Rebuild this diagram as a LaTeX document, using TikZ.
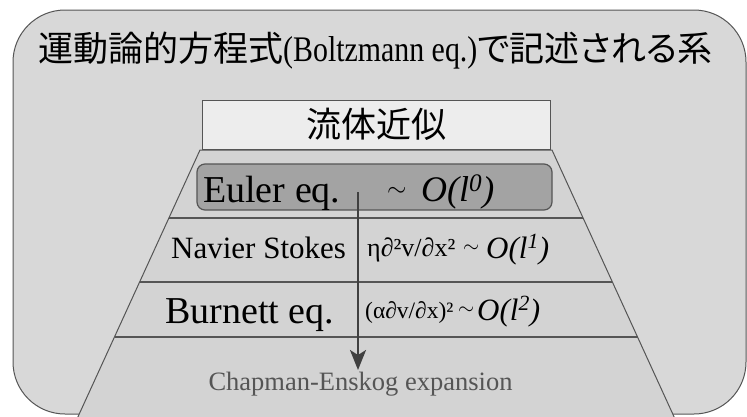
\documentclass[tikz,border=0pt]{standalone}
\usepackage{fontspec}
\setmainfont{Liberation Serif}
\newfontfamily\jp{Noto Sans CJK JP}
\newfontfamily\jpp[RawFeature=+palt]{Noto Sans CJK JP}
\usetikzlibrary{arrows.meta}
\definecolor{outerfill}{HTML}{D8D8D8}
\definecolor{trapfill}{HTML}{D3D3D3}
\definecolor{boxfill}{HTML}{EDEDED}
\definecolor{eulerfill}{HTML}{A3A3A3}
\definecolor{linegray}{HTML}{555555}
\definecolor{arrowgray}{HTML}{404040}
\definecolor{textgray}{HTML}{555555}
\tikzset{
  lbl/.style={anchor=base west, inner sep=0pt, text=black},
  rowline/.style={draw=linegray, line width=1.2pt},
  fluidbox/.style={draw=linegray, line width=1pt, fill=boxfill, minimum width=348pt, minimum height=49pt, inner sep=0pt},
  eulerbox/.style={draw=linegray, line width=1.2pt, fill=eulerfill, rounded corners=8pt, minimum width=355pt, minimum height=46pt, inner sep=0pt},
  flowarrow/.style={draw=arrowgray, line width=2pt, -{Stealth[width=16pt,length=20pt,inset=5pt]}}
}
\begin{document}
\begin{tikzpicture}[x=1pt,y=-1pt]
\useasboundingbox (0,0) rectangle (747,416);
% outer rounded region
\draw[draw=linegray, line width=1pt, fill=outerfill, rounded corners=52pt] (13,10) rectangle (746,414);
% title
\node[lbl] (title) at (38,61) {{\jp\fontsize{35}{40}\selectfont 運動論的方程式}\scalebox{0.83}[1]{\fontsize{36}{40}\selectfont(Boltzmann eq.)}{\jpp\fontsize{35}{40}\selectfont で記述される系}};
% trapezoid
\path[draw=linegray, line width=1pt, fill=trapfill] (200,150) -- (552,150) -- (674.6,418) -- (77.4,418) -- cycle;
% fluid approximation box
\node[fluidbox] (fluid) at (376,124.5) {\jp\fontsize{35}{40}\selectfont 流体近似};
% row separator lines
\coordinate (r1l) at (168.9,218); \coordinate (r1r) at (583.1,218);
\coordinate (r2l) at (139.7,282); \coordinate (r2r) at (612.3,282);
\coordinate (r3l) at (114.5,337); \coordinate (r3r) at (637.5,337);
\draw[rowline] (r1l) -- (r1r);
\draw[rowline] (r2l) -- (r2r);
\draw[rowline] (r3l) -- (r3r);
% Euler box
\node[eulerbox] (euler) at (374.5,187) {};
\node[lbl] (eulername) at (203,202) {\fontsize{38}{44}\selectfont Euler eq.};
\node[lbl] (eulertilde) at (387,196) {\fontsize{23}{28}\selectfont$\sim$};
\node[lbl] (eulerord) at (421,201) {\fontsize{36}{44}\selectfont\itshape O(l\textsuperscript{0})};
% Navier Stokes row
\node[lbl] (nsname) at (171,258) {\fontsize{31}{36}\selectfont Navier Stokes};
\node[lbl] (nsform) at (367,256) {\fontsize{26}{30}\selectfont η∂²v/∂x²};
\node[lbl] (nstilde) at (463,252) {\fontsize{21}{26}\selectfont$\sim$};
\node[lbl] (nsord) at (486,258) {\fontsize{31}{36}\selectfont\itshape O(l\textsuperscript{1})};
% Burnett row
\node[lbl] (bname) at (165,323) {\fontsize{38}{44}\selectfont Burnett eq.};
\node[lbl] (bform) at (365,318) {\fontsize{23.5}{28}\selectfont(α∂v/∂x)²};
\node[lbl] (btilde) at (458,314) {\fontsize{21}{26}\selectfont$\sim$};
\node[lbl] (bord) at (477,320) {\fontsize{31}{36}\selectfont\itshape O(l\textsuperscript{2})};
% Chapman-Enskog
\node[anchor=base, inner sep=0pt, text=textgray] (chap) at (360.5,390) {\fontsize{26.5}{30}\selectfont Chapman-Enskog expansion};
% arrow
\coordinate (astart) at (358,192);
\coordinate (atip) at (358,370);
\draw[flowarrow] (astart) -- (atip);
\end{tikzpicture}
\end{document}
